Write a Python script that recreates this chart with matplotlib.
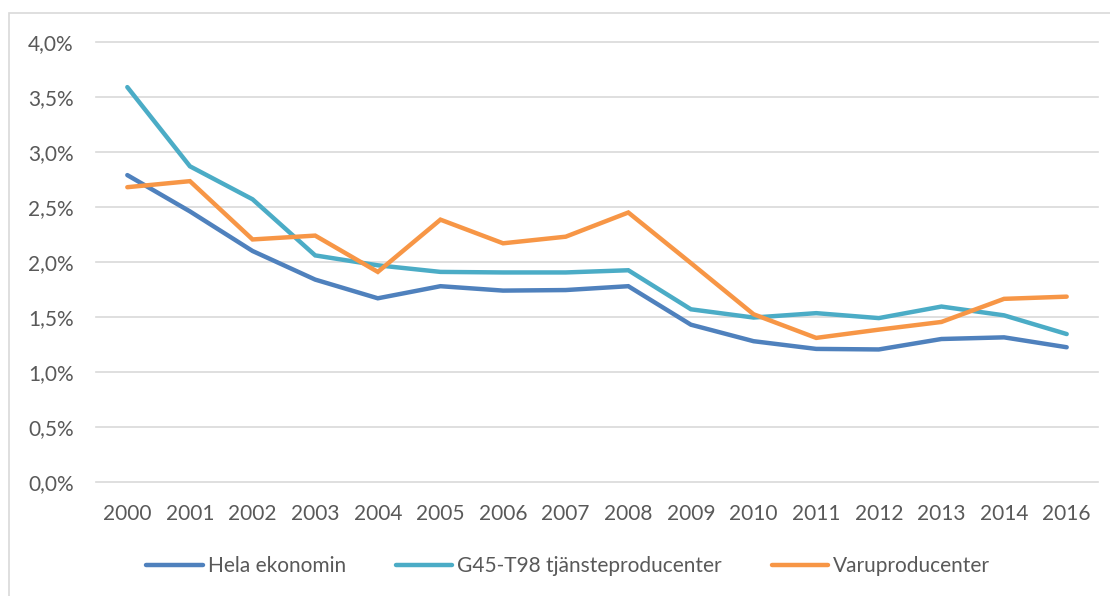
import matplotlib
matplotlib.use("Agg")
import matplotlib.pyplot as plt
from matplotlib.ticker import FuncFormatter, MultipleLocator
from matplotlib.patches import Rectangle

years = ["2000", "2001", "2002", "2003", "2004", "2005", "2006", "2007",
         "2008", "2009", "2010", "2011", "2012", "2013", "2014", "2016"]
hela = [2.79, 2.46, 2.10, 1.84, 1.67, 1.78, 1.74, 1.745, 1.78, 1.43, 1.28, 1.21, 1.205, 1.30, 1.315, 1.225]
tjanste = [3.59, 2.87, 2.57, 2.06, 1.97, 1.91, 1.905, 1.905, 1.925, 1.57, 1.495, 1.535, 1.49, 1.595, 1.515, 1.345]
varu = [2.68, 2.735, 2.205, 2.24, 1.91, 2.385, 2.17, 2.23, 2.45, 1.99, 1.525, 1.31, 1.385, 1.455, 1.665, 1.685]
series_names = ["Hela ekonomin", "G45-T98 tjänsteproducenter", "Varuproducenter"]
colors = ["#4F81BD", "#4BACC6", "#F79646"]

plt.rcParams['font.family'] = ['Lato', 'DejaVu Sans']

fig = plt.figure(figsize=(11.10, 5.96), dpi=100)
ax = fig.add_axes([96/1110, (596-482)/596, (1098-96)/1110, (482-42)/596])

x = list(range(len(years)))
for vals, name, c in zip([hela, tjanste, varu], series_names, colors):
    ax.plot(x, vals, color=c, lw=3.2, label=name, solid_capstyle='round', solid_joinstyle='miter')

ax.set_xlim(-0.5, len(years) - 0.5)
ax.set_ylim(0, 4.0)
ax.yaxis.set_major_locator(MultipleLocator(0.5))
ax.yaxis.set_major_formatter(FuncFormatter(lambda v, p: f"{v:.1f}".replace(".", ",") + "%"))
ax.set_xticks(x)
ax.set_xticklabels(years)
ax.grid(axis='y', color='#D9D9D9', lw=1.2)
for gl in ax.get_ygridlines():
    gl.set_clip_on(False)
ax.set_axisbelow(True)
for s in ax.spines.values():
    s.set_visible(False)
ax.tick_params(axis='both', length=0, labelsize=15, colors='#595959')
ax.tick_params(axis='y', pad=16)
ax.tick_params(axis='x', pad=16)

leg = fig.legend(loc='center', bbox_to_anchor=(0.512, (596-566)/596), ncol=3, frameon=False,
                 fontsize=15, handlelength=2.7, columnspacing=2.4, handletextpad=0.25)
for t in leg.get_texts():
    t.set_color('#595959')

fig.patches.append(Rectangle((9/1110, -0.01), 1.0, (596-13)/596 + 0.01, transform=fig.transFigure,
                             fill=False, edgecolor='#D9D9D9', lw=1.2))

fig.savefig("out.png", dpi=100)
